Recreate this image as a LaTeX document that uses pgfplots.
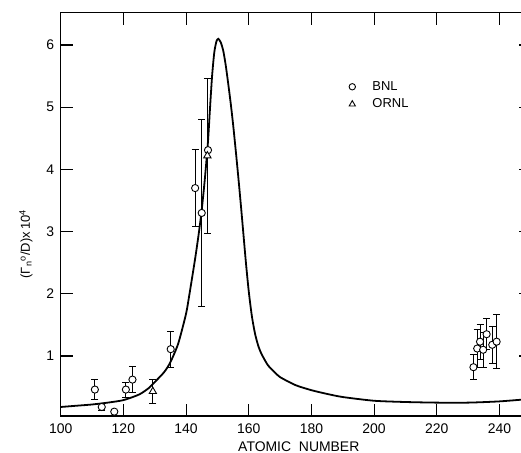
\documentclass[border=0pt]{standalone}
\usepackage{fontspec}
\setmainfont{Liberation Sans}
\usepackage{pgfplots}
\pgfplotsset{compat=1.18}

% measured curve (smooth fit through the data)
\pgfplotstableread{
x y
100 0.18
105 0.20
110 0.22
115 0.25
120 0.29
125 0.38
128 0.48
130 0.58
133 0.74
135 0.90
137.5 1.20
140 1.68
141 1.97
142 2.28
143 2.60
144 2.95
145 3.35
146 3.85
147 4.45
147.6 4.95
148.3 5.50
149 5.88
149.7 6.06
150.3 6.10
151.1 6.04
151.9 5.90
152.7 5.66
153.5 5.36
154.3 5.04
155.1 4.68
155.9 4.28
156.7 3.86
157.5 3.42
158.3 2.96
159.1 2.50
160 2.04
161 1.64
162 1.36
163 1.17
164 1.04
166 0.86
168 0.75
170 0.66
175 0.53
180 0.45
185 0.39
190 0.34
200 0.28
210 0.26
220 0.25
230 0.25
240 0.27
250 0.31
}\curve

% BNL points with error bars
\pgfplotstableread{
x y e
110.9 0.46 0.16
113.1 0.18 0.05
120.8 0.46 0.12
122.9 0.62 0.21
135.1 1.11 0.29
142.9 3.70 0.62
145.0 3.30 1.51
231.7 0.82 0.20
232.9 1.12 0.30
233.8 1.23 0.28
234.8 1.10 0.28
235.9 1.35 0.25
237.7 1.18 0.30
239.1 1.23 0.43
}\bnl

% BNL points without error bars
\pgfplotstableread{
x y
117.1 0.105
147.0 4.31
}\bnlnoerr

% ORNL points
\pgfplotstableread{
x y e
129.4 0.43 0.20
146.8 4.22 1.25
}\ornl

\begin{document}
\begin{tikzpicture}
\begin{axis}[
    scale only axis,
    width=470.1bp, height=403.3bp,
    xmin=100, xmax=250,
    ymin=0.035, ymax=6.52,
    xtick={100,120,...,240},
    ytick={1,2,...,6},
    tick align=inside,
    major tick length=12bp,
    axis line style={line width=1.2pt},
    tick style={line width=1.1pt, black},
    /pgf/number format/assume math mode=true,
    tick label style={font=\fontsize{14}{16}\selectfont},
    yticklabel style={xshift=-3bp},
    xticklabel style={yshift=-4bp},
    xlabel={ATOMIC\ \ NUMBER},
    ylabel={(Γ\textsubscript{n}\textsuperscript{o}/D)x\,10\textsuperscript{4}},
    every axis x label/.style={at={(axis description cs:0.5065,0)}, anchor=center,
        yshift=-30.7bp, font=\fontsize{14}{16}\selectfont},
    every axis y label/.style={at={(axis description cs:-0.074,0.426)}, anchor=center,
        rotate=90, font=\fontsize{13}{15}\selectfont},
    legend style={draw=none, fill=none, at={(axis cs:191.0,5.48)}, anchor=north west,
        font=\fontsize{13}{15}\selectfont, row sep=3bp,
        /tikz/every odd column/.append style={column sep=15bp}},
    legend cell align=left,
]
\addplot[black, line width=1.8pt, smooth, tension=0.4, forget plot] table[x=x, y=y] {\curve};

\addplot[black, forget plot, only marks, mark=*, mark size=3.6bp, mark options={fill=white, line width=0.9pt},
    error bars/.cd, y dir=both, y explicit,
    error bar style={line width=0.9pt},
    error mark options={rotate=90, mark size=3.5bp, line width=0.9pt}]
    table[x=x, y=y, y error=e] {\bnl};
\addplot[black, forget plot, only marks, mark=*, mark size=3.6bp, mark options={fill=white, line width=0.9pt}]
    table[x=x, y=y] {\bnlnoerr};
\addplot[black, forget plot, only marks, mark=triangle*, mark size=4.2bp, mark options={fill=white, line width=0.9pt},
    error bars/.cd, y dir=both, y explicit,
    error bar style={line width=0.9pt},
    error mark options={rotate=90, mark size=3.5bp, line width=0.9pt}]
    table[x=x, y=y, y error=e] {\ornl};

\addlegendimage{black, only marks, mark=o, mark size=3.2bp, mark options={line width=0.9pt}}
\addlegendentry{BNL}
\addlegendimage{black, only marks, mark=triangle, mark size=3.6bp, mark options={line width=0.9pt}}
\addlegendentry{ORNL}
\end{axis}
\pgfresetboundingbox
\path[use as bounding box] (-60.7bp,-37bp) rectangle (460.3bp,416bp);
\end{tikzpicture}
\end{document}
